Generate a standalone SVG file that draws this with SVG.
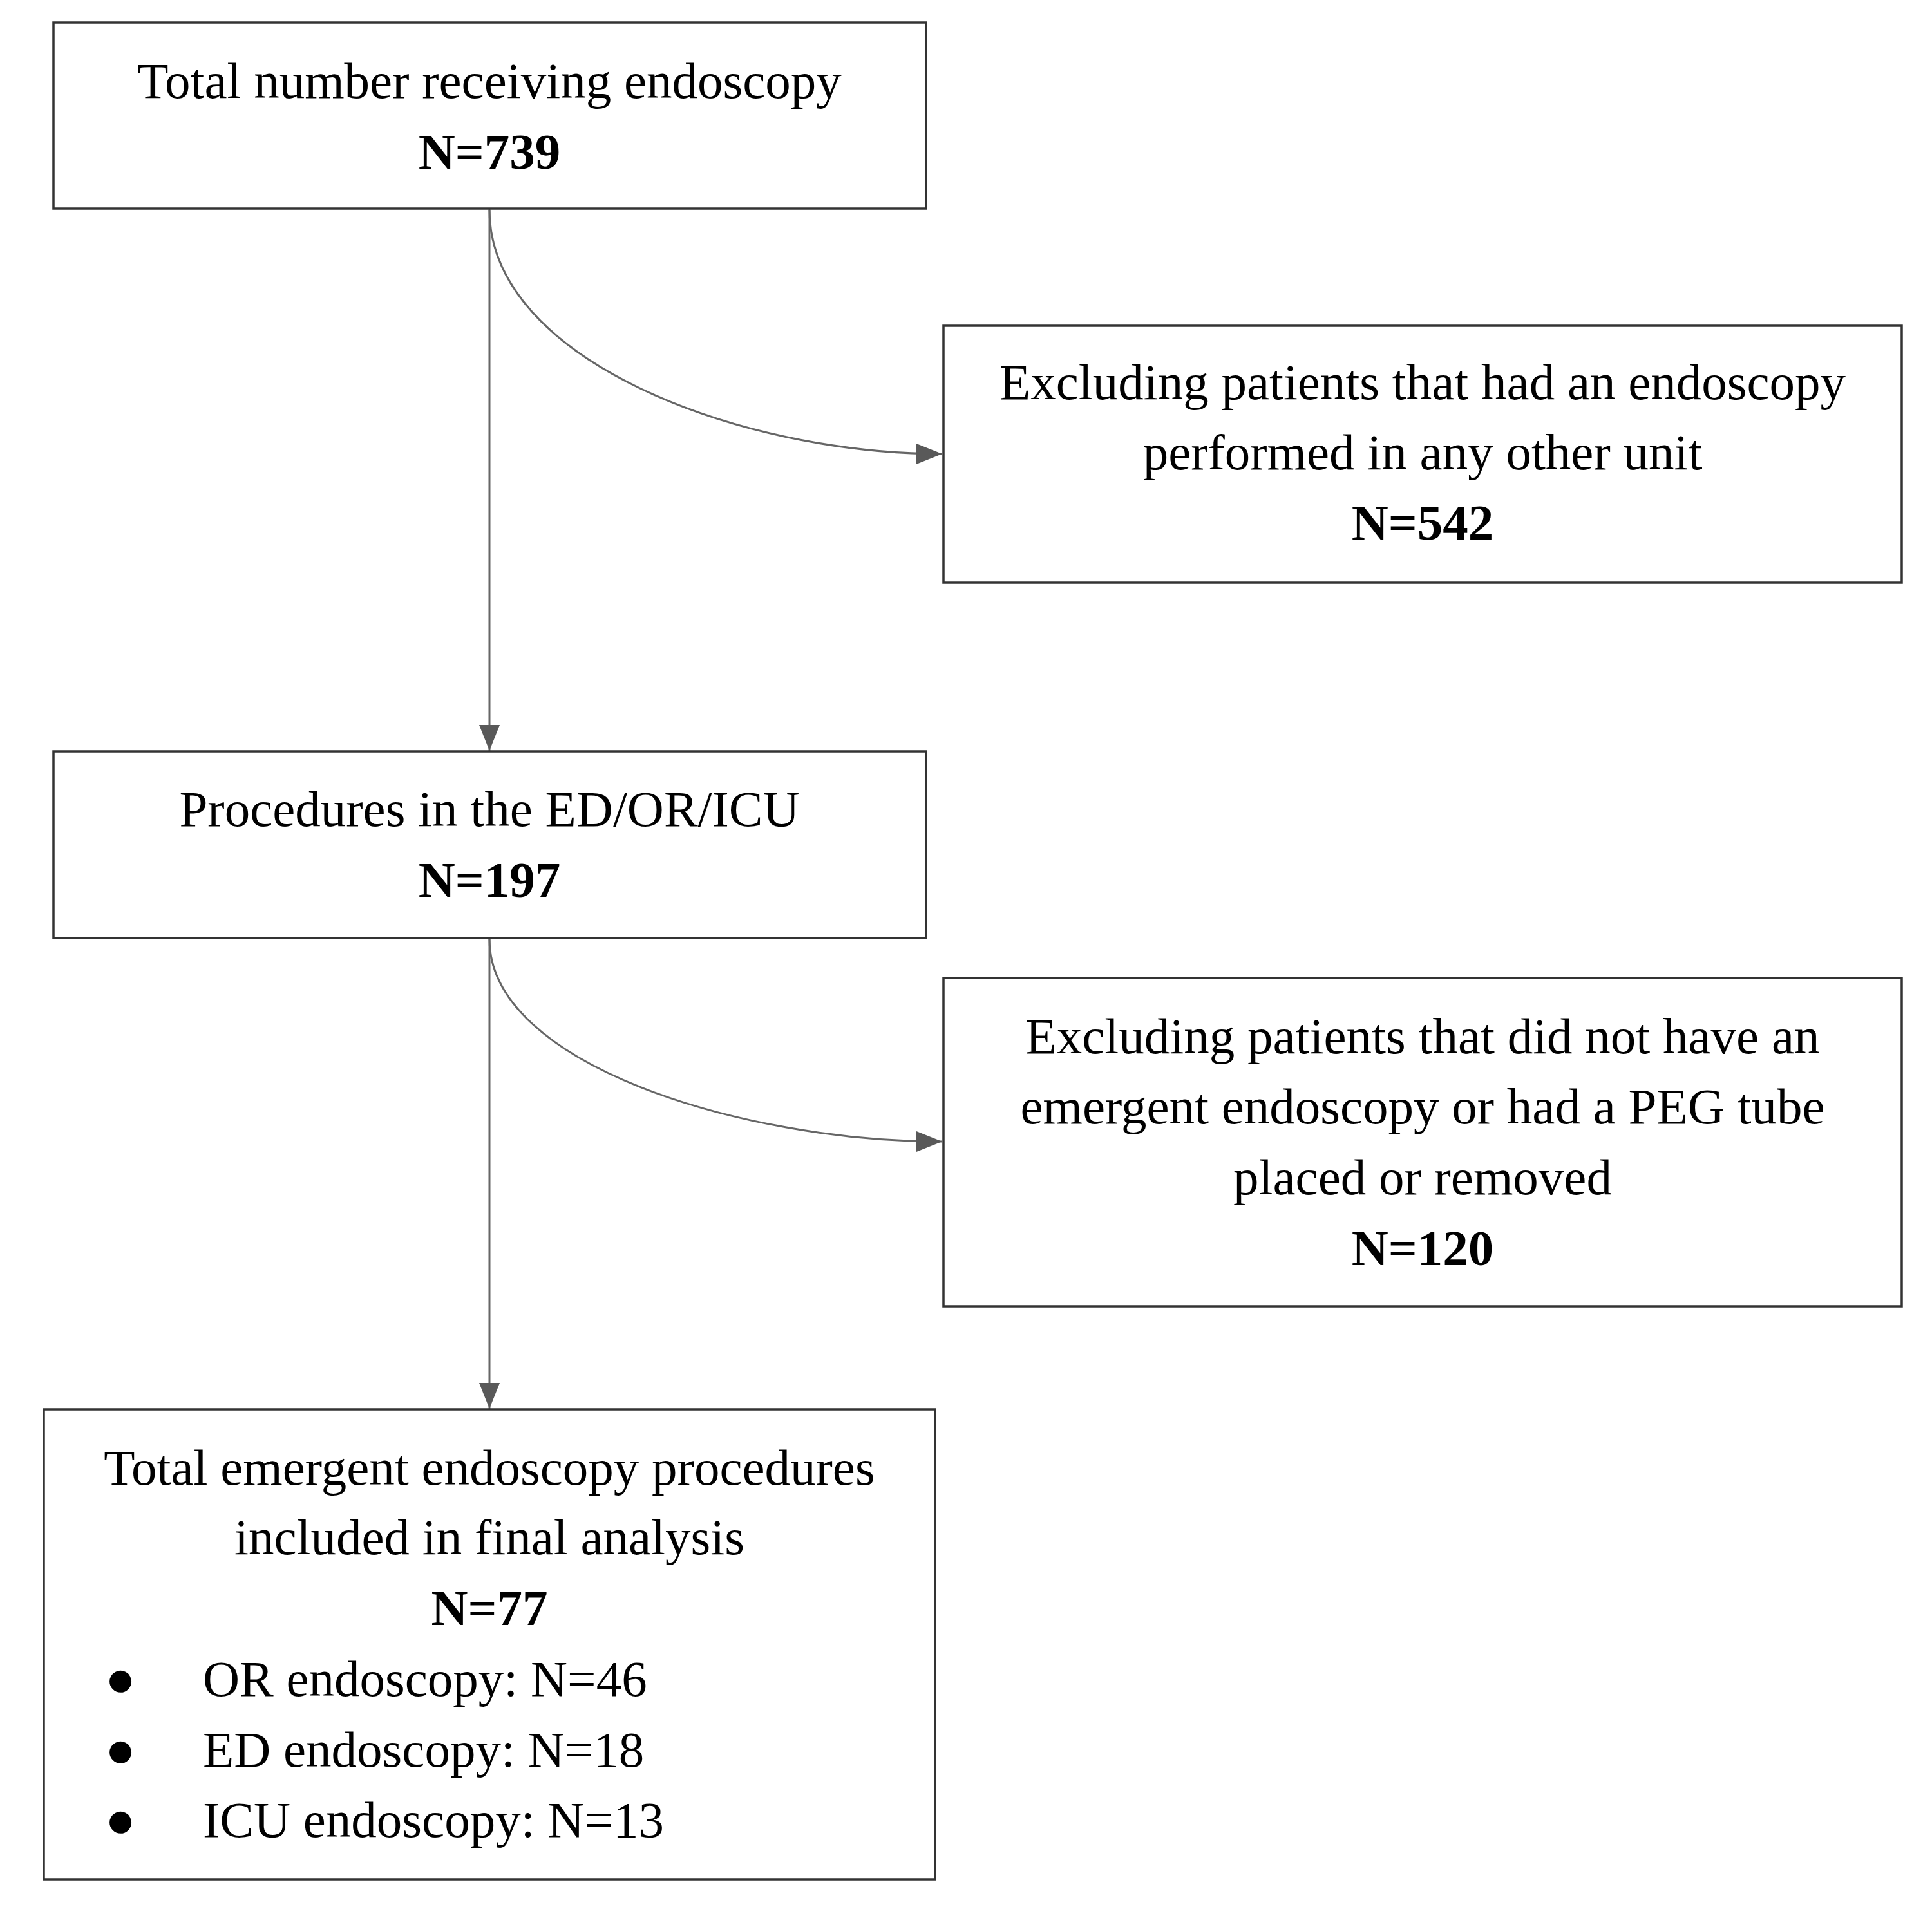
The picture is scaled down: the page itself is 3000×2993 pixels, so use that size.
<svg xmlns="http://www.w3.org/2000/svg" width="3000" height="2993" viewBox="0 0 3000 2993">
<style>
.box{fill:#fff;stroke:#333;stroke-width:3.5}
.t{font-family:"Liberation Serif","Times New Roman",serif;font-size:79px;fill:#000;text-anchor:middle}
.b{font-weight:bold}
.l{text-anchor:start}
.c{fill:none;stroke:#666;stroke-width:3}
</style>
<defs>
<marker id="ah" markerUnits="userSpaceOnUse" markerWidth="40" markerHeight="32" viewBox="0 0 40 32" refX="40" refY="16" orient="auto">
<path d="M0,0 L40,16 L0,32 z" fill="#595959"/>
</marker>
</defs>
<rect width="3000" height="2993" fill="#fff"/>
<g id="connectors">
<path class="c" d="M760,324 L760,1166" marker-end="url(#ah)"/>
<path class="c" d="M760,326 C760,560 1150,705 1463,705" marker-end="url(#ah)"/>
<path class="c" d="M760,1457 L760,2188" marker-end="url(#ah)"/>
<path class="c" d="M760,1459 C760,1652 1150,1773 1463,1773" marker-end="url(#ah)"/>
</g>
<g id="node1">
<rect class="box" x="83" y="35" width="1355" height="289"/>
<text class="t" x="760" y="152">Total number receiving endoscopy</text>
<text class="t b" x="760" y="262">N=739</text>
</g>
<g id="node2">
<rect class="box" x="1465" y="506" width="1488" height="399"/>
<text class="t" x="2209" y="620">Excluding patients that had an endoscopy</text>
<text class="t" x="2209" y="729">performed in any other unit</text>
<text class="t b" x="2209" y="838">N=542</text>
</g>
<g id="node3">
<rect class="box" x="83" y="1167" width="1355" height="290"/>
<text class="t" x="760" y="1283">Procedures in the ED/OR/ICU</text>
<text class="t b" x="760" y="1393">N=197</text>
</g>
<g id="node4">
<rect class="box" x="1465" y="1519" width="1488" height="510"/>
<text class="t" x="2209" y="1636">Excluding patients that did not have an</text>
<text class="t" x="2209" y="1745">emergent endoscopy or had a PEG tube</text>
<text class="t" x="2209" y="1855">placed or removed</text>
<text class="t b" x="2209" y="1965">N=120</text>
</g>
<g id="node5">
<rect class="box" x="68" y="2189" width="1384" height="730"/>
<text class="t" x="760" y="2306">Total emergent endoscopy procedures</text>
<text class="t" x="760" y="2414">included in final analysis</text>
<text class="t b" x="760" y="2524">N=77</text>
<text class="t" x="187" y="2634">●</text>
<text class="t l" x="315" y="2634">OR endoscopy: N=46</text>
<text class="t" x="187" y="2744">●</text>
<text class="t l" x="315" y="2744">ED endoscopy: N=18</text>
<text class="t" x="187" y="2853">●</text>
<text class="t l" x="315" y="2853">ICU endoscopy: N=13</text>
</g>
</svg>
